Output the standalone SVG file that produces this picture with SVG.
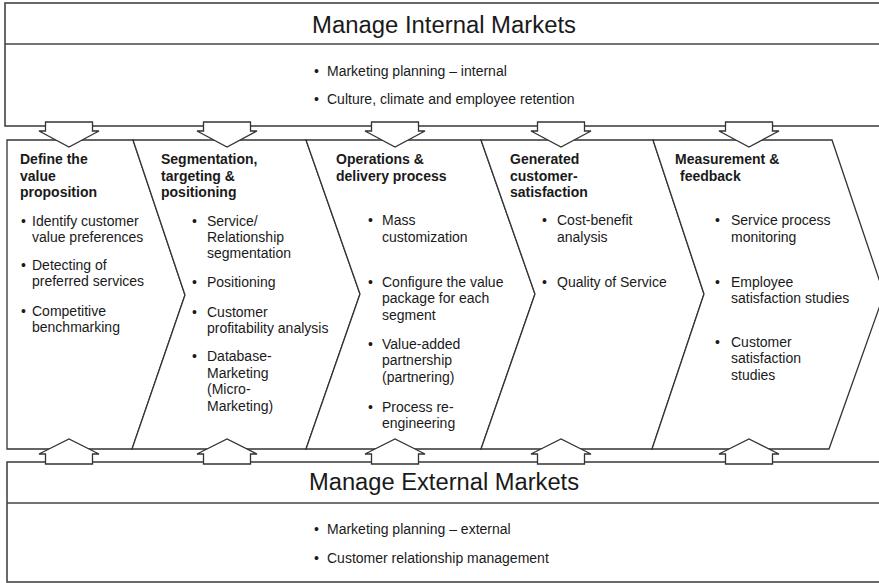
<svg xmlns="http://www.w3.org/2000/svg" width="879" height="583" viewBox="0 0 879 583">
<style>
.box{fill:#fff;stroke:#444;stroke-width:1.6}
.ln{fill:none;stroke:#444;stroke-width:1.6}
.chev{fill:#fff;stroke:#333;stroke-width:1.3;stroke-linejoin:miter}
.arr{fill:#fff;stroke:#333;stroke-width:1.3;stroke-linejoin:miter}
text{font-family:"Liberation Sans",Arial,sans-serif;fill:#1a1a1a}
.hd{font-size:23.5px}
.tt{font-size:14px;font-weight:bold}
.bd{font-size:14px}
</style>
<defs>
<path id="down" class="arr" d="M-23.5,-25 H23.5 V-16 H30 L0,0 L-30,-16 H-23.5 Z"/>
<path id="up" class="arr" d="M-23.5,25 H23.5 V15 H30 L0,0 L-30,15 H-23.5 Z"/>
</defs>
<rect width="879" height="583" fill="#fff"/>

<g id="internal-markets">
<rect class="box" x="5" y="3" width="890" height="123"/>
<line class="ln" x1="5" y1="44" x2="879" y2="44"/>
<text class="hd" x="312" y="33" textLength="264" lengthAdjust="spacingAndGlyphs">Manage Internal Markets</text>
<text class="bd" x="314" y="76">•</text><text class="bd" x="327" y="76">Marketing planning – internal</text>
<text class="bd" x="314" y="104">•</text><text class="bd" x="327" y="104">Culture, climate and employee retention</text>
</g>

<g id="external-markets">
<rect class="box" x="7" y="462" width="890" height="120"/>
<line class="ln" x1="7" y1="503" x2="879" y2="503"/>
<text class="hd" x="309" y="490" textLength="270" lengthAdjust="spacingAndGlyphs">Manage External Markets</text>
<text class="bd" x="314" y="534">•</text><text class="bd" x="327" y="534">Marketing planning – external</text>
<text class="bd" x="314" y="563">•</text><text class="bd" x="327" y="563">Customer relationship management</text>
</g>

<g id="value-proposition">
<polygon class="chev" points="7,140 133,140 185,295 132,449 7,449"/>
<text class="tt" x="20" y="164">Define the</text>
<text class="tt" x="20" y="180.5">value</text>
<text class="tt" x="20" y="197">proposition</text>
<text class="bd" x="21" y="226">•</text><text class="bd" x="32" y="226">Identify customer</text>
<text class="bd" x="32" y="242">value preferences</text>
<text class="bd" x="21" y="270">•</text><text class="bd" x="32" y="270">Detecting of</text>
<text class="bd" x="32" y="286">preferred services</text>
<text class="bd" x="21" y="316">•</text><text class="bd" x="32" y="316">Competitive</text>
<text class="bd" x="32" y="332">benchmarking</text>
</g>

<g id="segmentation">
<polygon class="chev" points="133,140 306,140 360,294 306,449 132,449 185,295"/>
<text class="tt" x="161" y="164">Segmentation,</text>
<text class="tt" x="161" y="180.5">targeting &amp;</text>
<text class="tt" x="161" y="197">positioning</text>
<text class="bd" x="192" y="226">•</text><text class="bd" x="207" y="226">Service/</text>
<text class="bd" x="207" y="242">Relationship</text>
<text class="bd" x="207" y="258">segmentation</text>
<text class="bd" x="192" y="287">•</text><text class="bd" x="207" y="287">Positioning</text>
<text class="bd" x="192" y="317">•</text><text class="bd" x="207" y="317">Customer</text>
<text class="bd" x="207" y="333">profitability analysis</text>
<text class="bd" x="192" y="361">•</text><text class="bd" x="207" y="361">Database-</text>
<text class="bd" x="207" y="378">Marketing</text>
<text class="bd" x="207" y="394">(Micro-</text>
<text class="bd" x="207" y="411">Marketing)</text>
</g>

<g id="operations-delivery">
<polygon class="chev" points="306,140 481,140 535,294 481,449 306,449 360,294"/>
<text class="tt" x="336" y="164">Operations &amp;</text>
<text class="tt" x="336" y="180.5">delivery process</text>
<text class="bd" x="368" y="225">•</text><text class="bd" x="382" y="225">Mass</text>
<text class="bd" x="382" y="242">customization</text>
<text class="bd" x="368" y="287">•</text><text class="bd" x="382" y="287">Configure the value</text>
<text class="bd" x="382" y="303">package for each</text>
<text class="bd" x="382" y="320">segment</text>
<text class="bd" x="368" y="349">•</text><text class="bd" x="382" y="349">Value-added</text>
<text class="bd" x="382" y="365">partnership</text>
<text class="bd" x="382" y="382">(partnering)</text>
<text class="bd" x="368" y="412">•</text><text class="bd" x="382" y="412">Process re-</text>
<text class="bd" x="382" y="428">engineering</text>
</g>

<g id="customer-satisfaction">
<polygon class="chev" points="481,140 653,140 704,294 652,449 481,449 535,294"/>
<text class="tt" x="510" y="164">Generated</text>
<text class="tt" x="510" y="180.5">customer-</text>
<text class="tt" x="510" y="197">satisfaction</text>
<text class="bd" x="542" y="225">•</text><text class="bd" x="557" y="225">Cost-benefit</text>
<text class="bd" x="557" y="242">analysis</text>
<text class="bd" x="542" y="287">•</text><text class="bd" x="557" y="287">Quality of Service</text>
</g>

<g id="measurement-feedback">
<polygon class="chev" points="653,140 832,140 884,294 829,449 652,449 704,294"/>
<text class="tt" x="675" y="164">Measurement &amp;</text>
<text class="tt" x="680" y="180.5">feedback</text>
<text class="bd" x="715" y="225">•</text><text class="bd" x="731" y="225">Service process</text>
<text class="bd" x="731" y="242">monitoring</text>
<text class="bd" x="715" y="287">•</text><text class="bd" x="731" y="287">Employee</text>
<text class="bd" x="731" y="303">satisfaction studies</text>
<text class="bd" x="715" y="347">•</text><text class="bd" x="731" y="347">Customer</text>
<text class="bd" x="731" y="363">satisfaction</text>
<text class="bd" x="731" y="380">studies</text>
</g>

<g id="connectors">
<use href="#down" x="69" y="147"/>
<use href="#down" x="227" y="147"/>
<use href="#down" x="395" y="147"/>
<use href="#down" x="561" y="147"/>
<use href="#down" x="749" y="147"/>
<use href="#up" x="69" y="439"/>
<use href="#up" x="227" y="439"/>
<use href="#up" x="395" y="439"/>
<use href="#up" x="561" y="439"/>
<use href="#up" x="749" y="439"/>
</g>
</svg>
